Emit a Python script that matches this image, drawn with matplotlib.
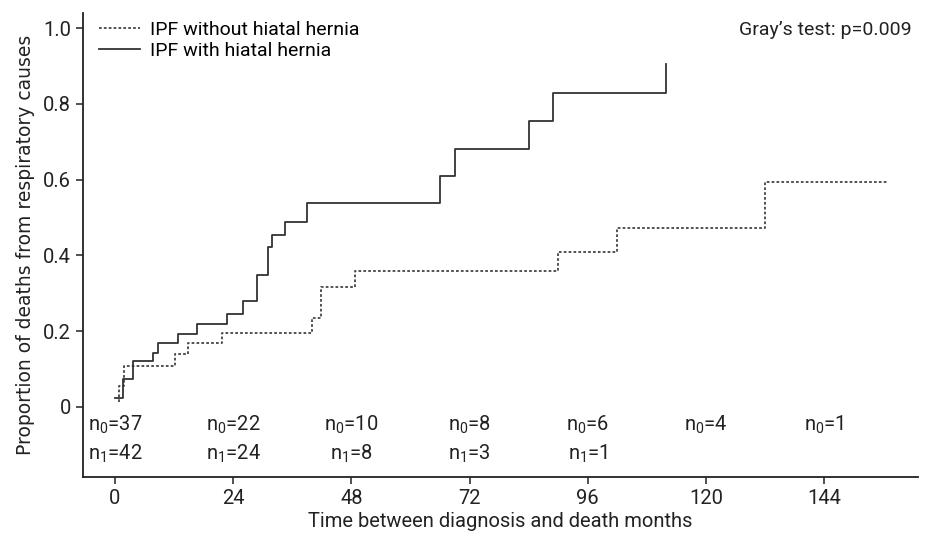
import matplotlib.pyplot as plt

# Data
t_without = [0.9, 0.9, 1.8, 12.1, 14.9, 21.7, 40.0, 41.8, 48.7, 90.0, 102.0, 132.0, 156.9]
cif_without = [0.014, 0.054, 0.108, 0.140, 0.168, 0.196, 0.236, 0.317, 0.360, 0.410, 0.473, 0.593, 0.593]

t_with = [0, 1.7, 3.7, 7.8, 8.8, 12.7, 16.6, 22.7, 25.9, 28.8, 31.0, 31.9, 34.6, 38.9,
          65.9, 69.1, 84.0, 88.9, 111.9]
cif_with = [0.023, 0.073, 0.120, 0.143, 0.168, 0.193, 0.218, 0.246, 0.280, 0.348, 0.421,
            0.454, 0.489, 0.537, 0.609, 0.681, 0.755, 0.828, 0.904]

risk_times = [0, 24, 48, 72, 96, 120, 144]
n0_at_risk = [37, 22, 10, 8, 6, 4, 1]
n1_at_risk = [42, 24, 8, 3, 1]

font = "Roboto"
plt.rcParams["font.family"] = [font, "DejaVu Sans"]
plt.rcParams["mathtext.fontset"] = "custom"
plt.rcParams["mathtext.rm"] = font
plt.rcParams["mathtext.it"] = font

fig = plt.figure(figsize=(9.28, 5.4), dpi=100)
ax = fig.add_axes([0.0894, 0.1167, 0.8996, 0.8593])

ax.step(t_without, cif_without, where="post", color="#444444", lw=1.3,
        linestyle=(0, (1.5, 1.2)), label="IPF without hiatal hernia")
ax.step(t_with, cif_with, where="post", color="#333333", lw=1.3,
        label="IPF with hiatal hernia")

# numbers at risk
for t, n in zip(risk_times, n0_at_risk):
    ax.text(t, -0.047, f"n$_0$={n}", ha="center", va="center", fontsize=14.5, color="#222222")
for t, n in zip(risk_times, n1_at_risk):
    ax.text(t, -0.124, f"n$_1$={n}", ha="center", va="center", fontsize=14.5, color="#222222")

ax.text(0.993, 0.963, "Gray\u2019s test: p=0.009", transform=ax.transAxes,
        ha="right", va="center", fontsize=14, color="#222222")

ax.set_xlim(-6.5, 163)
ax.set_ylim(-0.185, 1.04)
ax.set_xticks(risk_times)
ax.set_yticks([0, 0.2, 0.4, 0.6, 0.8, 1.0])
ax.set_yticklabels(["0", "0.2", "0.4", "0.6", "0.8", "1.0"])
ax.tick_params(labelsize=14.5, length=5, width=1.1, colors="#222222")

for side in ["top", "right"]:
    ax.spines[side].set_visible(False)
for side in ["left", "bottom"]:
    ax.spines[side].set_linewidth(1.3)
    ax.spines[side].set_color("#222222")

ax.set_xlabel("Time between diagnosis and death months", fontsize=14.5, color="#222222",
              labelpad=3)
ax.set_ylabel("Proportion of deaths from respiratory causes", fontsize=13.5,
              color="#222222", family="DejaVu Sans", labelpad=6)

ax.legend(loc="upper left", bbox_to_anchor=(0.01, 1.0), frameon=False, fontsize=14,
          handlelength=2.1, handletextpad=0.5, labelspacing=0.15, borderaxespad=0)

plt.savefig("out.png", dpi=100)
